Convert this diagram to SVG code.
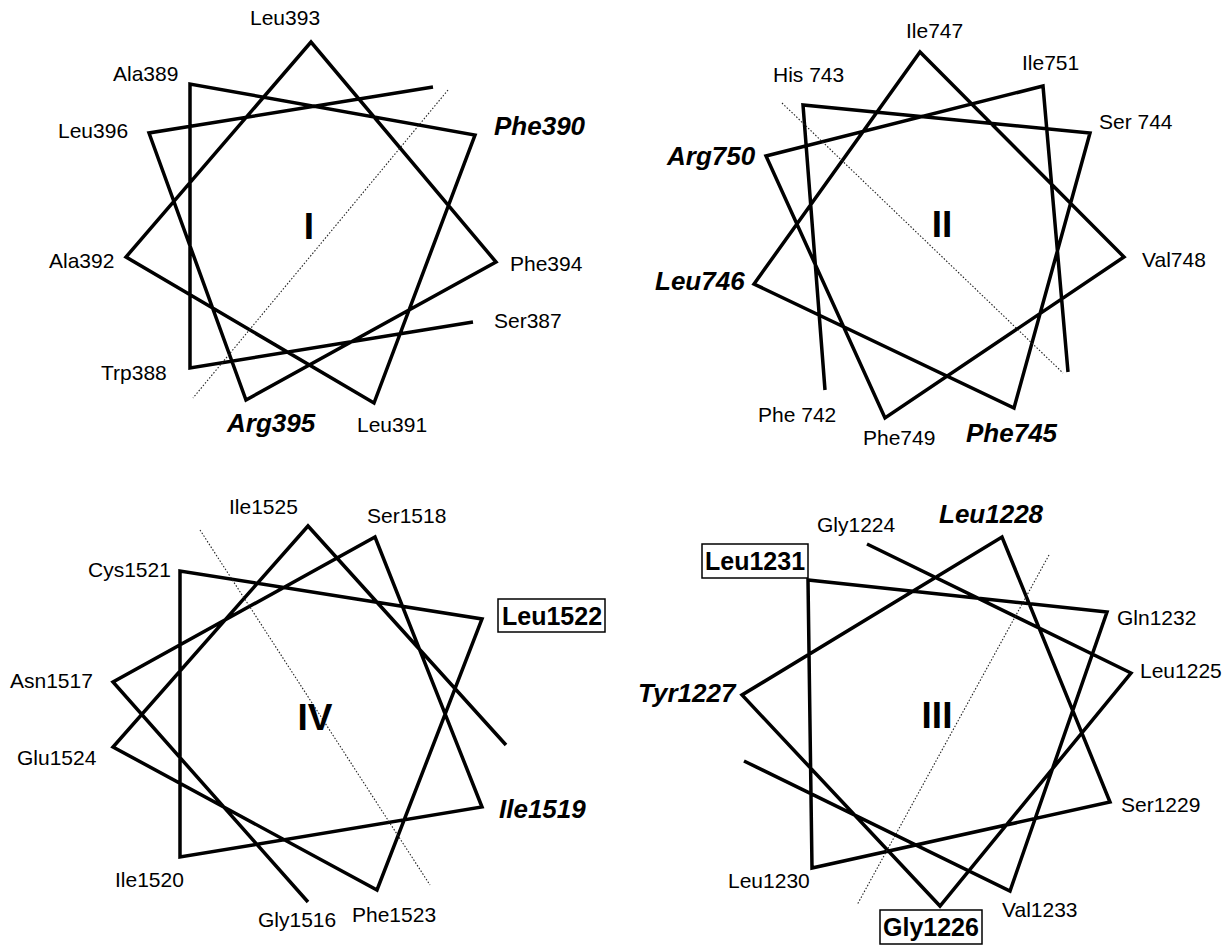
<svg xmlns="http://www.w3.org/2000/svg" width="1232" height="945" viewBox="0 0 1232 945">
<style>
.w{fill:none;stroke:#000;stroke-width:3.5;stroke-linejoin:miter;stroke-miterlimit:10}
.d{fill:none;stroke:#222;stroke-width:1.1;stroke-dasharray:1.5 1.8}
text{font-family:"Liberation Sans",Arial,sans-serif;font-size:21px;fill:#000}
.bi{font-weight:bold;font-style:italic;font-size:26px}
.bx{font-weight:bold;font-size:25px}
.box{fill:#fff;stroke:#000;stroke-width:1.5}
.num{font-weight:bold;font-size:37px;text-anchor:middle}
</style>
<rect width="1232" height="945" fill="#fff"/>
<g id="connectors">
<polyline class="w" points="473,322 190,368 190,84 475,135 374,403 126,257 311,42 496,262 246,400 149,133 433,87"/>
<line class="d" x1="448" y1="90" x2="193" y2="398"/>
<polyline class="w" points="825,390 803,105 1090,133 1014,408 754,284 920,52 1124,257 885,418 766,156 1043,86 1068,372"/>
<line class="d" x1="782" y1="103" x2="1063" y2="373"/>
<polyline class="w" points="308,902 113,682 375,537 482,807 180,857 180,571 482,619 377,890 113,747 308,526 506,745"/>
<line class="d" x1="200" y1="530" x2="430" y2="885"/>
<polyline class="w" points="867,544 1131,673 940,906 742,695 1002,537 1110,802 812,868 808,580 1107,612 1010,891 744,761"/>
<line class="d" x1="1049" y1="555" x2="857" y2="905"/>
</g>
<g id="wheel-I">
<g id="I-label"><text class="num" x="309" y="239">I</text></g>
<g id="Leu393"><text x="250" y="25">Leu393</text></g>
<g id="Ala389"><text x="113" y="81">Ala389</text></g>
<g id="Leu396"><text x="58" y="138">Leu396</text></g>
<g id="Phe390"><text class="bi" x="494" y="135">Phe390</text></g>
<g id="Ala392"><text x="49" y="268">Ala392</text></g>
<g id="Phe394"><text x="510" y="271">Phe394</text></g>
<g id="Ser387"><text x="494" y="328">Ser387</text></g>
<g id="Trp388"><text x="101" y="380">Trp388</text></g>
<g id="Arg395"><text class="bi" x="227" y="432">Arg395</text></g>
<g id="Leu391"><text x="357" y="432">Leu391</text></g>
</g>
<g id="wheel-II">
<g id="II-label"><text class="num" x="942" y="237">II</text></g>
<g id="Ile747"><text x="906" y="38">Ile747</text></g>
<g id="His743"><text x="773" y="82">His 743</text></g>
<g id="Ile751"><text x="1022" y="70">Ile751</text></g>
<g id="Ser744"><text x="1099" y="129">Ser 744</text></g>
<g id="Arg750"><text class="bi" x="667" y="165">Arg750</text></g>
<g id="Leu746"><text class="bi" x="655" y="290">Leu746</text></g>
<g id="Val748"><text x="1142" y="267">Val748</text></g>
<g id="Phe742"><text x="758" y="422">Phe 742</text></g>
<g id="Phe749"><text x="863" y="445">Phe749</text></g>
<g id="Phe745"><text class="bi" x="966" y="442">Phe745</text></g>
</g>
<g id="wheel-IV">
<g id="IV-label"><text class="num" x="315" y="730">IV</text></g>
<g id="Ile1525"><text x="229" y="514">Ile1525</text></g>
<g id="Ser1518"><text x="367" y="523">Ser1518</text></g>
<g id="Cys1521"><text x="88" y="577">Cys1521</text></g>
<g id="Leu1522"><rect class="box" x="498" y="599" width="107" height="33"/><text class="bx" x="502" y="625">Leu1522</text></g>
<g id="Asn1517"><text x="10" y="688">Asn1517</text></g>
<g id="Glu1524"><text x="17" y="765">Glu1524</text></g>
<g id="Ile1519"><text class="bi" x="499" y="818">Ile1519</text></g>
<g id="Ile1520"><text x="115" y="887">Ile1520</text></g>
<g id="Gly1516"><text x="258" y="927">Gly1516</text></g>
<g id="Phe1523"><text x="352" y="922">Phe1523</text></g>
</g>
<g id="wheel-III">
<g id="III-label"><text class="num" x="937" y="728">III</text></g>
<g id="Gly1224"><text x="817" y="532">Gly1224</text></g>
<g id="Leu1228"><text class="bi" x="939" y="523">Leu1228</text></g>
<g id="Leu1231"><rect class="box" x="702" y="544" width="106" height="34"/><text class="bx" x="705" y="570">Leu1231</text></g>
<g id="Gln1232"><text x="1117" y="625">Gln1232</text></g>
<g id="Leu1225"><text x="1140" y="678">Leu1225</text></g>
<g id="Tyr1227"><text class="bi" x="638" y="702">Tyr1227</text></g>
<g id="Ser1229"><text x="1121" y="812">Ser1229</text></g>
<g id="Leu1230"><text x="728" y="888">Leu1230</text></g>
<g id="Val1233"><text x="1002" y="917">Val1233</text></g>
<g id="Gly1226"><rect class="box" x="880" y="910" width="102" height="34"/><text class="bx" x="883" y="936">Gly1226</text></g>
</g>
</svg>
